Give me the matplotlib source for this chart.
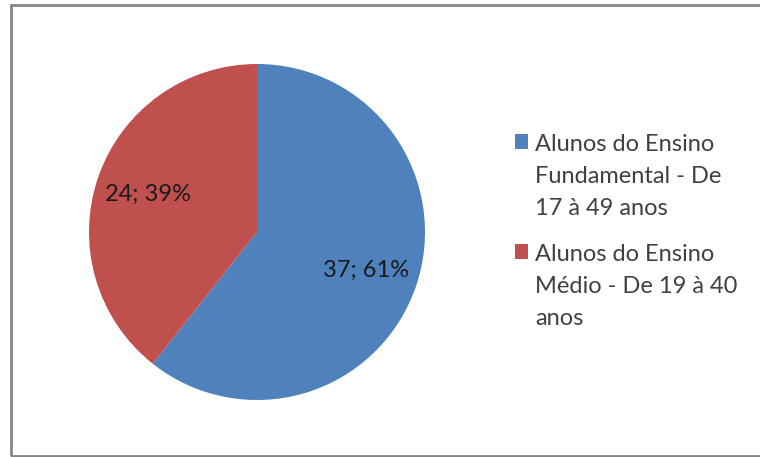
import matplotlib
matplotlib.use("Agg")
from matplotlib import pyplot as plt
from matplotlib.patches import Rectangle, Patch

# data
labels = ["Alunos do Ensino\nFundamental - De\n17 à 49 anos",
          "Alunos do Ensino\nMédio - De 19 à 40\nanos"]
values = [37, 24]
colors = ["#4F81BD", "#C0504D"]

plt.rcParams["font.family"] = ["Lato", "DejaVu Sans"]

fig = plt.figure(figsize=(7.6, 4.57), dpi=100)

# gray frame round the chart area
fig.patches.append(Rectangle((11 / 760, 1 / 457), 1.0, 451 / 457, transform=fig.transFigure,
                             fill=False, edgecolor="#868686", linewidth=2))

ax = fig.add_axes([89 / 760, 57 / 457, 336 / 760, 336 / 457])
total = sum(values)


def fmt(p):
    v = int(round(p * total / 100.0))
    return "%d; %d%%" % (v, round(p))


wedges, texts, autotexts = ax.pie(values, colors=colors, startangle=90, counterclock=False,
                                  autopct=fmt, pctdistance=0.69, radius=1,
                                  textprops={"fontsize": 17, "color": "#1a1a1a"})
ax.set_xlim(-1, 1)
ax.set_ylim(-1, 1)
ax.set_aspect("equal")

handles = [Patch(facecolor=c, edgecolor="none") for c in colors]
leg = fig.legend(handles, labels, loc="upper left", bbox_to_anchor=(494 / 760, 1 - 113 / 457),
                 frameon=False, fontsize=17, labelcolor="#404040", handlelength=0.55,
                 handleheight=0.6, handletextpad=0.3, labelspacing=1.05)
for t in leg.get_texts():
    t.set_linespacing(1.65)
# put the square next to the first line of each entry
for col in leg._legend_handle_box.get_children():
    for row in col.get_children():
        row.align = "top"

fig.savefig("out.png", dpi=100)
